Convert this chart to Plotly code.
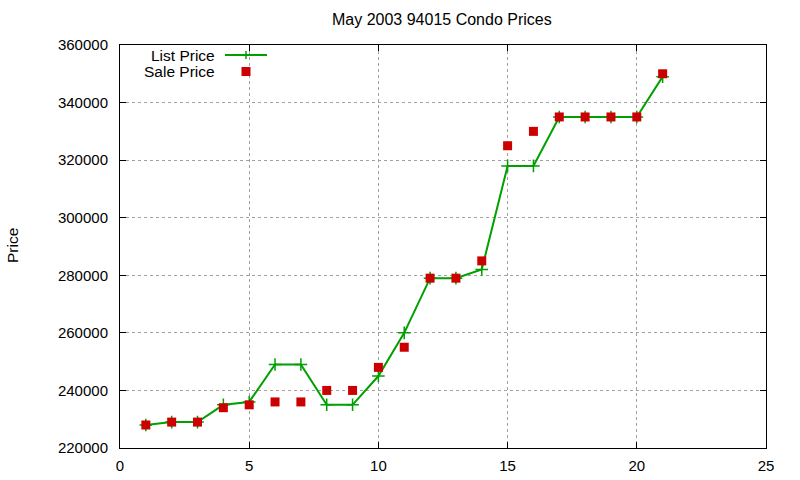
import plotly.graph_objects as go

house = list(range(1, 22))
list_price = [228000, 229000, 229000, 235000, 236000, 249000, 249000, 235000, 235000, 245000,
              260000, 279000, 279000, 282000, 318000, 318000, 335000, 335000, 335000, 335000, 349000]
sale_price = [228000, 229000, 229000, 234000, 235000, 236000, 236000, 240000, 240000, 248000,
              255000, 279000, 279000, 285000, 325000, 330000, 335000, 335000, 335000, 335000, 350000]
x_ticks = [0, 5, 10, 15, 20, 25]
y_ticks = [220000, 240000, 260000, 280000, 300000, 320000, 340000, 360000]

GREEN = "#00a000"
RED = "#cc0000"
FONT = "Liberation Sans, Arial, sans-serif"

L, R, T, B = 120, 34, 45, 32
W, H = 800, 480
PW, PH = W - L - R, H - T - B

def px(x):
    return (x - L) / PW

def py(y):
    return (H - B - y) / PH

fig = go.Figure()
fig.add_trace(go.Scatter(x=house, y=list_price, mode="lines+markers", name="List Price",
                         line=dict(color=GREEN, width=2),
                         marker=dict(symbol="cross-thin", size=9, line=dict(color=GREEN, width=1.5)),
                         showlegend=False))
fig.add_trace(go.Scatter(x=house, y=sale_price, mode="markers", name="Sale Price",
                         marker=dict(symbol="square", size=9, color=RED),
                         showlegend=False))

axis_common = dict(showline=True, linecolor="black", linewidth=1, mirror="ticks",
                   ticks="inside", ticklen=6, tickcolor="black", showgrid=True,
                   gridcolor="#a0a0a0", griddash="dot", gridwidth=1, zeroline=False,
                   automargin=False,
                   tickfont=dict(family=FONT, size=15, color="black"))

fig.update_xaxes(range=[0, 25], tickvals=x_ticks, ticktext=[str(v) for v in x_ticks],
                 ticklabelstandoff=4, **axis_common)
fig.update_yaxes(range=[220000, 360000], tickvals=y_ticks, ticktext=[str(v) for v in y_ticks],
                 ticklabelstandoff=8, **axis_common)

shapes = [
    dict(type="line", xref="paper", yref="paper", x0=px(225), x1=px(267), y0=py(55), y1=py(55),
         line=dict(color=GREEN, width=2)),
    dict(type="line", xref="paper", yref="paper", x0=px(246), x1=px(246), y0=py(51), y1=py(59),
         line=dict(color=GREEN, width=1.5)),
    dict(type="rect", xref="paper", yref="paper", x0=px(241.5), x1=px(250.5), y0=py(76), y1=py(67),
         fillcolor=RED, line=dict(width=0)),
]

annotations = [
    dict(text="List Price", xref="paper", yref="paper", x=px(217), y=py(55), xanchor="right",
         yanchor="middle", showarrow=False, font=dict(family=FONT, size=15.5, color="black")),
    dict(text="Sale Price", xref="paper", yref="paper", x=px(217), y=py(71), xanchor="right",
         yanchor="middle", showarrow=False, font=dict(family=FONT, size=15.5, color="black")),
    dict(text="Price", xref="paper", yref="paper", x=px(12), y=py(246), textangle=-90,
         xanchor="center", yanchor="middle", showarrow=False,
         font=dict(family=FONT, size=15.5, color="black")),
    dict(text="May 2003 94015 Condo Prices", xref="paper", yref="paper", x=px(442), y=py(20),
         xanchor="center", yanchor="middle", showarrow=False,
         font=dict(family=FONT, size=16, color="black")),
]

fig.update_layout(width=W, height=H, margin=dict(l=L, r=R, t=T, b=B),
                  paper_bgcolor="white", plot_bgcolor="white",
                  shapes=shapes, annotations=annotations, showlegend=False)

fig.write_html("out.html")
